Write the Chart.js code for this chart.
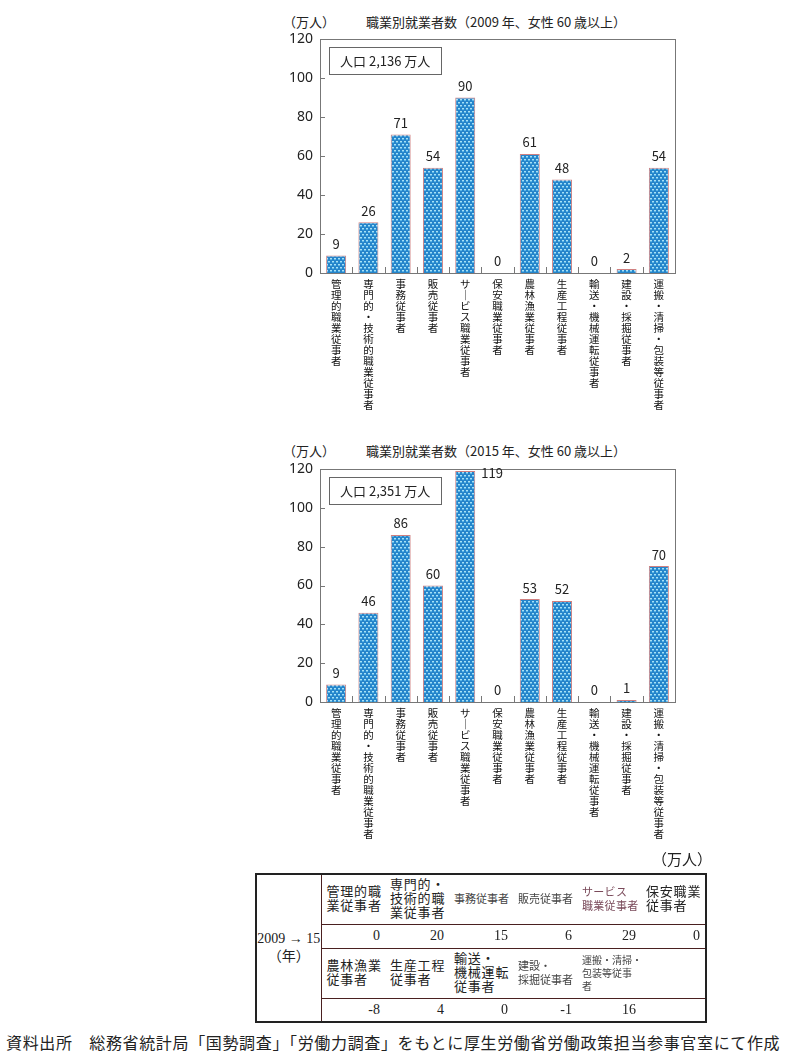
<!DOCTYPE html>
<html><head><meta charset="utf-8">
<script src="https://cdn.jsdelivr.net/npm/chart.js@4.4.0/dist/chart.umd.min.js"></script>
<style>
html,body{margin:0;padding:0;background:#fff;}
body{width:785px;height:1063px;position:relative;overflow:hidden;font-family:"Noto Sans CJK JP","Noto Sans",sans-serif;color:#222;}
.cv{position:absolute;left:270px;}
.ttl{position:absolute;font-size:13px;white-space:nowrap;color:#222;}
#tbl{position:absolute;left:255px;top:873px;width:450px;border-collapse:collapse;table-layout:fixed;border:2px solid #222;font-family:"Liberation Serif","Noto Sans CJK JP",serif;}
#tbl td{border:1px solid #4a2020;padding:0 4px;font-size:13px;line-height:14px;color:#222;overflow:hidden;white-space:nowrap;box-sizing:border-box;}
#tbl td.h{vertical-align:middle;text-align:left;letter-spacing:0.8px;border-left:none;border-right:none;height:50px;padding:0 3px 0 5px;}
#tbl td.v{text-align:right;font-size:14px;height:24px;border-left:none;border-right:none;padding:0 5px;}
#tbl td.yr{text-align:center;vertical-align:middle;font-size:14px;line-height:18px;padding:0;}
#unit{position:absolute;left:652px;top:848px;font-size:15px;font-family:"Liberation Serif","Noto Sans CJK JP",serif;}
#src{position:absolute;left:6px;top:1030px;font-size:16px;white-space:nowrap;font-family:"Noto Sans CJK JP",serif;letter-spacing:0.65px;}
</style></head>
<body>
<div class="ttl" style="left:283px;top:12px;">（万人）</div>
<div class="ttl" id="t1" style="left:366px;top:12px;"></div>
<canvas id="c1" class="cv" width="420" height="420" style="top:0px;"></canvas>
<div class="ttl" style="left:283px;top:441px;">（万人）</div>
<div class="ttl" id="t2" style="left:366px;top:441px;"></div>
<canvas id="c2" class="cv" width="420" height="420" style="top:430px;"></canvas>
<div id="unit">（万人）</div>
<table id="tbl"></table>
<div id="src">資料出所　総務省統計局「国勢調査」「労働力調査」をもとに厚生労働省労働政策担当参事官室にて作成</div>
<script>
// ---- data ----
const categories = ['管理的職業従事者','専門的・技術的職業従事者','事務従事者','販売従事者','サービス職業従事者','保安職業従事者','農林漁業従事者','生産工程従事者','輸送・機械運転従事者','建設・採掘従事者','運搬・清掃・包装等従事者'];
const values2009 = [9,26,71,54,90,0,61,48,0,2,54];
const values2015 = [9,46,86,60,119,0,53,52,0,1,70];
const yTicks = [0,20,40,60,80,100,120];
const title2009 = '職業別就業者数（2009 年、女性 60 歳以上）';
const title2015 = '職業別就業者数（2015 年、女性 60 歳以上）';
const population2009 = '人口 2,136 万人';
const population2015 = '人口 2,351 万人';
const tableRow1Labels = ['管理的職\n業従事者','専門的・\n技術的職\n業従事者','事務従事者','販売従事者','サービス\n職業従事者','保安職業\n従事者'];
const tableRow1Values = [0,20,15,6,29,0];
const tableRow2Labels = ['農林漁業\n従事者','生産工程\n従事者','輸送・\n機械運転\n従事者','建設・\n採掘従事者','運搬・清掃・\n包装等従事\n者',''];
const tableRow2Values = [-8,4,0,-1,16,null];
const periodLabel = '2009 → 15';
const periodUnit = '（年）';

document.getElementById('t1').textContent = title2009;
document.getElementById('t2').textContent = title2015;

// ---- pattern ----
function makePattern(){
  const p = document.createElement('canvas'); p.width=4; p.height=6;
  const c = p.getContext('2d');
  c.fillStyle='#2585cb'; c.fillRect(0,0,4,6);
  c.fillStyle='#a8e0f5';
  c.fillRect(0,0,2,1); c.fillRect(2,3,2,1);
  c.fillStyle='#5cb6e6';
  c.fillRect(0,1,2,1); c.fillRect(2,4,2,1);
  return document.getElementById('c1').getContext('2d').createPattern(p,'repeat');
}
const pat = makePattern();

const framePlugin = {
  id:'frame',
  afterDraw(chart, args, opts){
    const ctx = chart.ctx, a = chart.chartArea;
    const x = chart.scales.x, y = chart.scales.y;
    ctx.save();
    ctx.strokeStyle='#777'; ctx.lineWidth=1;
    ctx.strokeRect(Math.round(a.left)+0.5, Math.round(a.top)+0.5, Math.round(a.right-a.left), Math.round(a.bottom-a.top));
    yTicks.forEach(v=>{
      const py = Math.round(y.getPixelForValue(v))+0.5;
      ctx.beginPath(); ctx.moveTo(a.left, py); ctx.lineTo(a.left+5, py); ctx.stroke();
    });
    const n = categories.length;
    for(let i=1;i<n;i++){
      const px = Math.round((x.getPixelForValue(i-1)+x.getPixelForValue(i))/2)+0.5;
      ctx.beginPath(); ctx.moveTo(px, a.bottom); ctx.lineTo(px, a.bottom-6); ctx.stroke();
    }
    ctx.font='13px "Noto Sans CJK JP"';
    const tw = ctx.measureText(opts.pop).width;
    const bx = a.left+9, by = a.top+8, bw = tw+22, bh = 27;
    ctx.fillStyle='#fff'; ctx.fillRect(bx,by,bw,bh);
    ctx.strokeStyle='#666';
    ctx.strokeRect(Math.round(bx)+0.5, Math.round(by)+0.5, Math.round(bw), bh);
    ctx.fillStyle='#222'; ctx.textBaseline='middle'; ctx.textAlign='left';
    ctx.fillText(opts.pop, bx+11, by+bh/2+1);
    const meta = chart.getDatasetMeta(0);
    const data = chart.data.datasets[0].data;
    ctx.font='13px "Noto Sans CJK JP"';
    meta.data.forEach((bar,i)=>{
      const v = data[i];
      if(v>110){
        ctx.textAlign='left'; ctx.textBaseline='top';
        ctx.fillText(String(v), bar.x+bar.width/2+6, bar.y-4);
      } else {
        ctx.textAlign='center'; ctx.textBaseline='bottom';
        ctx.fillText(String(v), bar.x, bar.y-5);
      }
    });
    ctx.restore();
  }
};

function makeChart(id, values, pop, axisH){
  return new Chart(document.getElementById(id), {
    type:'bar',
    data:{labels:categories, datasets:[{data:values, backgroundColor:pat, borderColor:'#d08080', borderWidth:1, barPercentage:0.62, categoryPercentage:1}]},
    options:{
      responsive:false, animation:false, devicePixelRatio:1,
      layout:{padding:{top:39,right:15,left:0,bottom:0}},
      plugins:{legend:{display:false}, tooltip:{enabled:false}, frame:{pop:pop}},
      scales:{
        x:{
          grid:{display:false, drawTicks:false}, border:{display:false},
          ticks:{autoSkip:false, maxRotation:0, minRotation:0, padding:6, color:'#111',
            font:{family:'"Noto Sans CJK JP"', size:10.5, lineHeight:11/10.5},
            callback:function(v){ return this.getLabelForValue(v).replace(/ー/g,'｜').split(''); }},
          afterFit:(s)=>{ s.height = axisH; }
        },
        y:{
          min:0, max:120,
          grid:{display:false, drawTicks:false}, border:{display:false},
          ticks:{stepSize:20, padding:7, color:'#222', font:{family:'"Noto Sans","DejaVu Sans"', size:14}},
          afterFit:(s)=>{ s.width = 50; }
        }
      }
    },
    plugins:[framePlugin]
  });
}
makeChart('c1', values2009, population2009, 147);
makeChart('c2', values2015, population2015, 148);

// ---- table ----
const tbl = document.getElementById('tbl');
const colW = [65,64,64,64,64,64,65];
const cg = document.createElement('colgroup');
colW.forEach(w=>{const c=document.createElement('col'); c.style.width=w+'px'; cg.appendChild(c);});
tbl.appendChild(cg);
function hRow(labels, first){
  const tr = document.createElement('tr');
  if(first){
    const td=document.createElement('td'); td.className='yr'; td.rowSpan=4;
    td.innerHTML = periodLabel+'<br>'+periodUnit; tr.appendChild(td);
  }
  labels.forEach(l=>{
    const td=document.createElement('td'); td.className='h';
    const lines = l.split('\n');
    if(lines.length===1 && l.length>4){ td.style.fontSize='11px'; td.style.letterSpacing='0px'; td.style.color='#444'; }
    if(l.indexOf('サービス')===0){ td.style.fontSize='11px'; td.style.letterSpacing='0.3px'; td.style.color='#7a4a5a'; }
    if(l.indexOf('運搬')===0){ td.style.fontSize='10px'; td.style.letterSpacing='0px'; td.style.color='#444'; td.style.lineHeight='13px'; }
    if(l.indexOf('建設')===0){ td.style.fontSize='11px'; td.style.letterSpacing='0px'; td.style.color='#444'; }
    td.innerHTML = lines.join('<br>');
    tr.appendChild(td);
  });
  tbl.appendChild(tr);
}
function vRow(vals){
  const tr = document.createElement('tr');
  vals.forEach(v=>{
    const td=document.createElement('td'); td.className='v';
    td.textContent = v===null ? '' : String(v);
    tr.appendChild(td);
  });
  tbl.appendChild(tr);
}
hRow(tableRow1Labels, true);
vRow(tableRow1Values);
hRow(tableRow2Labels, false);
vRow(tableRow2Values);
</script>
</body></html>
